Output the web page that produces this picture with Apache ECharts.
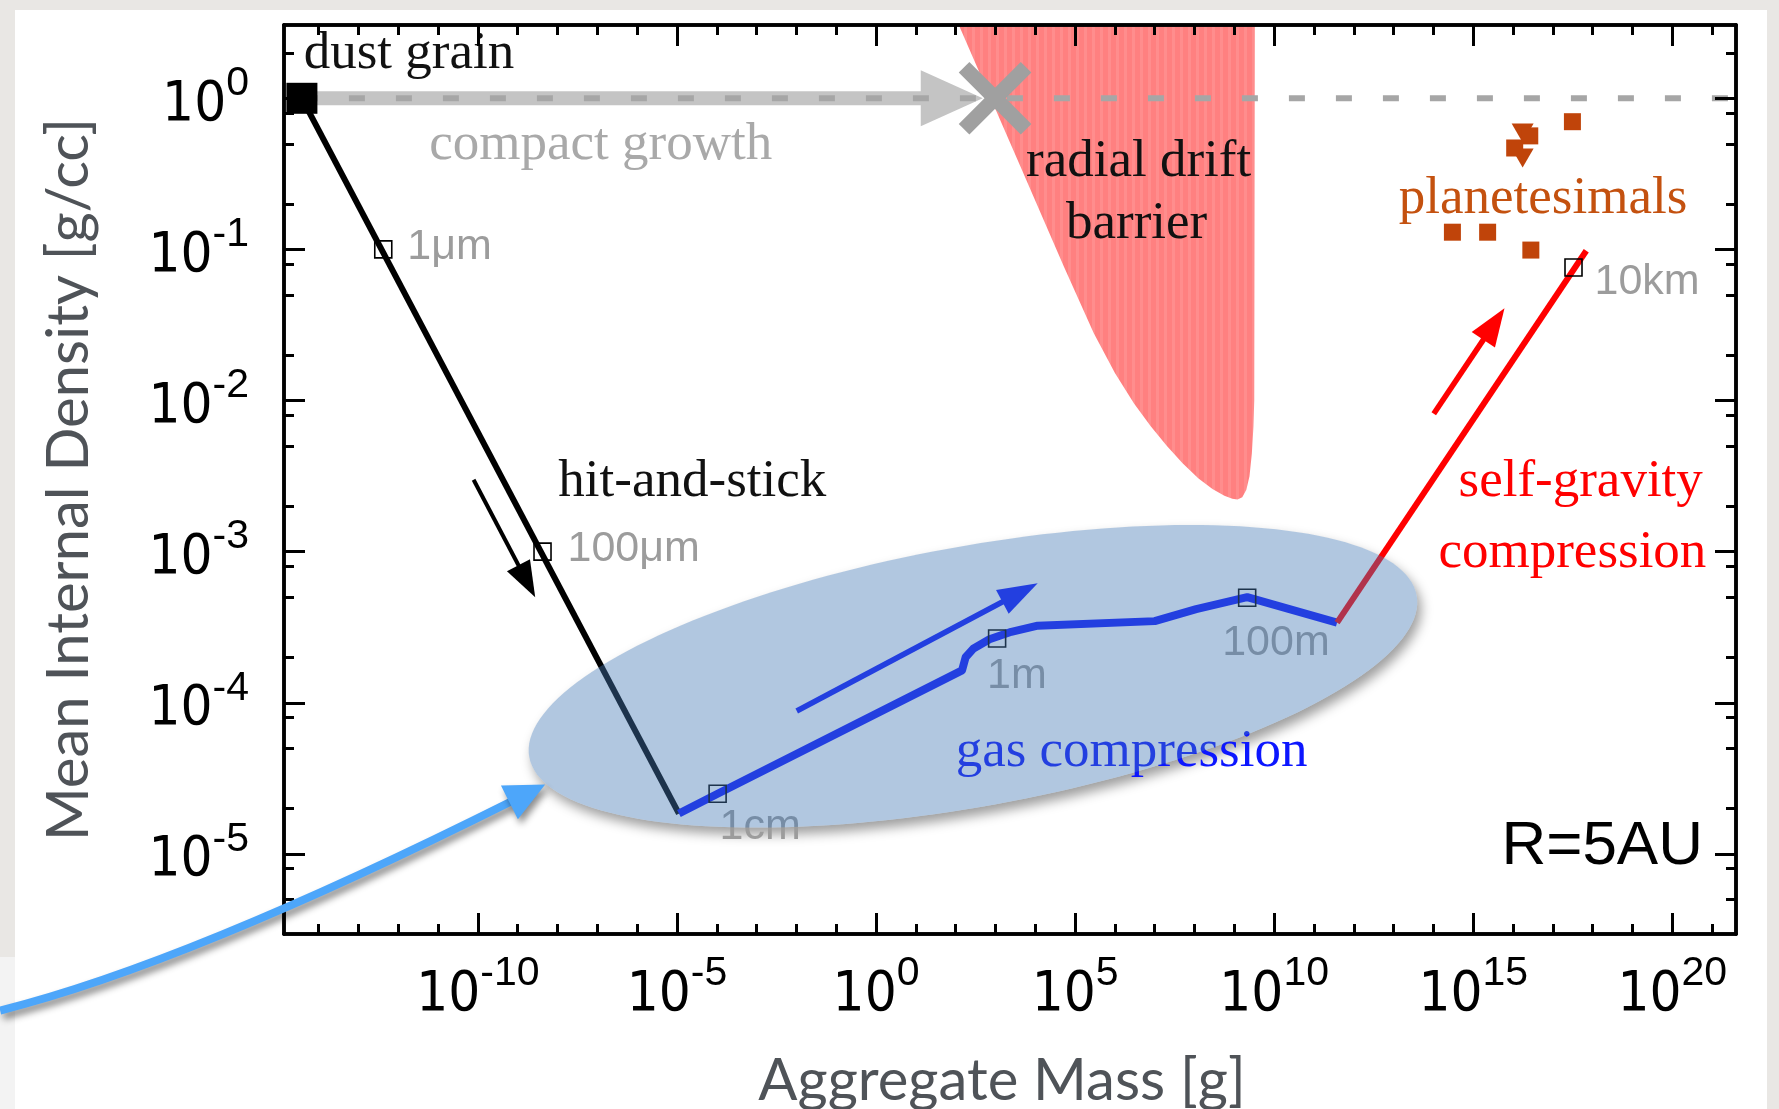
<!DOCTYPE html>
<html>
<head>
<meta charset="utf-8">
<script src="https://cdn.jsdelivr.net/npm/echarts@6/dist/echarts.min.js"></script>
<style>
  html, body { margin: 0; padding: 0; background: #e9e7e4; }
  #chart { width: 1779px; height: 1109px; }
</style>
</head>
<body>
<div id="chart"></div>
<script>
// ---------- axis extents ----------
const MASS_MIN = Math.pow(10, -14.87), MASS_MAX = Math.pow(10, 21.6);
const DENS_MIN = Math.pow(10, -5.53),  DENS_MAX = Math.pow(10, 0.485);

// ---------- tick values ----------
const massTickLabels = [1e-10, 1e-5, 1, 1e5, 1e10, 1e15, 1e20];
const massMinorTicks = [];
for (let d = -14; d <= 21; d++) massMinorTicks.push(Math.pow(10, d));
const densTickLabels = [1e-5, 1e-4, 1e-3, 1e-2, 1e-1, 1];
const densMinorTicks = [];
for (let d = -6; d <= 0; d++) {
  [2, 0.8, 0.5].forEach(f => {
    const v = f * Math.pow(10, d);
    if (v > DENS_MIN && v < DENS_MAX) densMinorTicks.push(v);
  });
}

// ---------- evolution tracks (mass [g], internal density [g/cc]) ----------
const hitStickMass = [3.8e-15, 1.12e-5];
const hitStickDens = [1, 1.85e-5];

const gasMass = [1.12e-5, 1.05e-4, 145, 178, 282, 708, 2.5e3, 1.15e4, 1.0e7, 1.1e8, 2.1e9, 3.8e11];
const gasDens = [1.85e-5, 2.5e-5, 1.64e-4, 2.0e-4, 2.29e-4, 2.63e-4, 2.95e-4, 3.24e-4, 3.47e-4, 4.17e-4, 5.0e-4, 3.39e-4];

const selfGravMass = [3.8e11, 6.9e17];
const selfGravDens = [3.39e-4, 0.098];

// compact growth along rho = 1 and where it stops
const compactMass = [3.8e-15, 480];
const compactDens = [1, 1];
const compactStopMass = [977];
const compactStopDens = [1];
const compactRefMass = [3.8e-15, MASS_MAX];
const compactRefDens = [1, 1];

// size markers along the track
const sizeNames = ['1μm', '100μm', '1cm', '1m', '100m', '10km'];
const sizeMass  = [4.2e-13, 4.2e-9, 1.05e-4, 1.1e3, 2.1e9, 3.3e17];
const sizeDens  = [0.1, 1e-3, 2.5e-5, 2.66e-4, 4.95e-4, 0.076];

// radial drift barrier boundary
const barrierMass = [120, 759, 4266, 5.25e4, 2.95e5, 1.0e6, 3.02e6, 7.94e6, 2.0e7, 5.01e7, 1.26e8, 2.82e8,
                     5.62e8, 8.91e8, 1.2e9, 1.58e9, 2.0e9, 2.4e9, 2.75e9, 3.02e9, 3.16e9, 3.27e9];
const barrierDens = [3.05, 1, 0.353, 0.0769, 0.0279, 0.0152, 9.55e-3, 6.75e-3, 5.02e-3, 3.85e-3, 3.05e-3, 2.6e-3,
                     2.34e-3, 2.24e-3, 2.21e-3, 2.29e-3, 2.57e-3, 3.16e-3, 4.47e-3, 6.76e-3, 0.01, 3.05];

// observed planetesimals
const planetMass = [3.1e17, 2.63e16, 1.1e16, 3.0e14, 2.3e15, 2.8e16];
const planetDens = [0.70, 0.564, 0.469, 0.13, 0.13, 0.099];
const planetLimitMass = [1.74e16, 1.74e16];
const planetLimitDens = [0.589, 0.403];

// direction arrows: start and end (mass, density)
const arrowStart = [[7.8e-11, 2.99e-3], [0.0102, 8.83e-5], [1.02e14, 8.18e-3]];
const arrowEnd   = [[2.75e-9, 5.0e-4], [1.15e4, 6.19e-4], [6.1e15, 0.0408]];

// highlighted gas-compression region: major-axis tips and one minor-axis tip
const regionLeft  = [1.95e-9, 4.37e-5];
const regionRight = [3.8e13, 5.13e-4];
const regionSide  = [69, 1.05e-3];

// pointer curve: start, control, tip
const pointerStart = [1e-22, 9.2e-7];
const pointerCtrl  = [4.8e-18, 1.87e-6];
const pointerTip   = [4.9e-9, 2.88e-5];

// ---------- styles ----------
const SERIF = '"Liberation Serif", "Times New Roman", serif';
const SANS = '"Liberation Sans", Arial, sans-serif';
const NARROW = '"Liberation Sans Narrow", "Arial Narrow", "DejaVu Sans Condensed", sans-serif';
const TITLE = 'Lato, "Open Sans", sans-serif';
const BLUE = 'rgb(12,22,255)';
const RED = '#ff0000';

const arrowStyles = [
  { color: '#000', width: 4, head: 36, headW: 26 },
  { color: BLUE, width: 5.5, head: 40, headW: 27 },
  { color: RED, width: 5.5, head: 38, headW: 28 }
];
const sizeLabelOffsets = [[24, -2], [25, -3], [2, 33], [-10, 38], [-25, 45], [21, 15]];

// annotation texts anchored in data space
const notes = [
  { text: 'dust grain', at: [4.2e-15, 1.96], align: 'left', color: '#111', family: SERIF, size: 53 },
  { text: 'compact growth', at: [6.0e-12, 0.491], align: 'left', color: '#a9a9a9', family: SERIF, size: 53 },
  { text: 'radial drift', at: [3.94e6, 0.379], align: 'center', color: '#111', family: SERIF, size: 53 },
  { text: 'barrier', at: [3.5e6, 0.148], align: 'center', color: '#111', family: SERIF, size: 53 },
  { text: 'hit-and-stick', at: [1.05e-8, 2.9e-3], align: 'left', color: '#111', family: SERIF, size: 53 },
  { text: 'planetesimals', at: [1.35e13, 0.216], align: 'left', color: '#c4510f', family: SERIF, size: 53 },
  { text: 'self-gravity', at: [5.0e17, 2.9e-3], align: 'center', color: RED, family: SERIF, size: 53 },
  { text: 'compression', at: [3.1e17, 9.85e-4], align: 'center', color: RED, family: SERIF, size: 53 },
  { text: 'gas compression', at: [100, 4.75e-5], align: 'left', color: BLUE, family: SERIF, size: 53 },
  { text: 'R=5AU', at: [5.9e20, 1.12e-5], align: 'right', color: '#000', family: SANS, size: 62 }
];

// ---------- helpers ----------
const zip = (xs, ys) => xs.map((x, i) => [x, ys[i]]);

function powerLabel(v) {
  const e = Math.round(Math.log10(v));
  return '{b|10}{e|' + e + '}';
}
const powerRich = {
  b: { fontFamily: NARROW, fontSize: 56, lineHeight: 56, verticalAlign: 'bottom', color: '#000' },
  e: { fontFamily: SANS, fontSize: 41, lineHeight: 70, verticalAlign: 'top', color: '#000' }
};

function massAxis(position, ticks, len, withLabels) {
  const ax = {
    type: 'log', logBase: 10, min: MASS_MIN, max: MASS_MAX, position: position, z: 10,
    axisLine: { show: true, onZero: false, lineStyle: { color: '#000', width: 3.5 } },
    axisTick: { show: true, inside: true, length: len, customValues: ticks, lineStyle: { color: '#000', width: 3 } },
    axisLabel: { show: false },
    splitLine: { show: false }, minorTick: { show: false }, minorSplitLine: { show: false },
    silent: true
  };
  if (withLabels) {
    ax.axisLabel = { show: true, customValues: massTickLabels, margin: 19, formatter: powerLabel, rich: powerRich };
    ax.name = 'Aggregate Mass [g]';
    ax.nameLocation = 'middle';
    ax.nameGap = 118;
    ax.nameMoveOverlap = false;
    ax.nameTextStyle = { fontFamily: TITLE, fontSize: 58, color: '#4f5358', padding: [0, 16, 0, 0] };
  }
  return ax;
}

function densAxis(position, ticks, len, withLabels) {
  const ax = {
    type: 'log', logBase: 10, min: DENS_MIN, max: DENS_MAX, position: position, z: 10,
    axisLine: { show: true, onZero: false, lineStyle: { color: '#000', width: 3.5 } },
    axisTick: { show: true, inside: true, length: len, customValues: ticks, lineStyle: { color: '#000', width: 3 } },
    axisLabel: { show: false },
    splitLine: { show: false }, minorTick: { show: false }, minorSplitLine: { show: false },
    silent: true
  };
  if (withLabels) {
    ax.axisLabel = { show: true, customValues: densTickLabels, margin: 35, formatter: powerLabel, rich: powerRich };
    ax.name = 'Mean Internal Density [g/cc]';
    ax.nameLocation = 'middle';
    ax.nameGap = 186;
    ax.nameMoveOverlap = false;
    ax.nameTextStyle = { fontFamily: TITLE, fontSize: 58, color: '#4f5358' };
  }
  return ax;
}

function arrowShape(p1, p2, st) {
  const dx = p2[0] - p1[0], dy = p2[1] - p1[1];
  const L = Math.hypot(dx, dy) || 1;
  const ux = dx / L, uy = dy / L, nx = -uy, ny = ux;
  const bx = p2[0] - ux * st.head, by = p2[1] - uy * st.head;
  const hw = st.headW / 2;
  return [
    { type: 'line', shape: { x1: p1[0], y1: p1[1], x2: bx + ux * 2, y2: by + uy * 2 },
      style: { stroke: st.color, lineWidth: st.width, fill: null } },
    { type: 'polygon', shape: { points: [[p2[0], p2[1]], [bx + nx * hw, by + ny * hw], [bx - nx * hw, by - ny * hw]] },
      style: { fill: st.color } }
  ];
}

function ellipsePoints(api) {
  const L = api.coord([api.value(0), api.value(1)]);
  const R = api.coord([api.value(2), api.value(3)]);
  const N = api.coord([api.value(4), api.value(5)]);
  const cx = (L[0] + R[0]) / 2, cy = (L[1] + R[1]) / 2;
  const a = Math.hypot(R[0] - L[0], R[1] - L[1]) / 2;
  const ang = Math.atan2(R[1] - L[1], R[0] - L[0]);
  const ca = Math.cos(ang), sa = Math.sin(ang);
  const b = Math.abs((N[0] - cx) * sa - (N[1] - cy) * ca);
  const pts = [];
  for (let k = 0; k < 180; k++) {
    const t = 2 * Math.PI * k / 180;
    const u = a * Math.cos(t), v = b * Math.sin(t);
    pts.push([cx + u * ca - v * sa, cy + u * sa + v * ca]);
  }
  return pts;
}

function stripePattern() {
  const c = document.createElement('canvas');
  c.width = 8; c.height = 4;
  const g = c.getContext('2d');
  g.fillStyle = '#ff8080'; g.fillRect(0, 0, 8, 4);
  g.fillStyle = '#ff8d8d'; g.fillRect(4, 0, 3, 4);
  return c;
}

const regionData = [[regionLeft[0], regionLeft[1], regionRight[0], regionRight[1], regionSide[0], regionSide[1]]];

// ---------- chart ----------
const chart = echarts.init(document.getElementById('chart'));
chart.setOption({
  animation: false,
  backgroundColor: 'transparent',
  textStyle: { fontFamily: SANS },
  grid: { left: 284, right: 43, top: 25, bottom: 175, containLabel: false, outerBoundsMode: 'none' },
  graphic: [
    { type: 'rect', z: -10, silent: true, shape: { x: 15, y: 10, width: 1752, height: 1099 }, style: { fill: '#ffffff' } },
    { type: 'rect', z: -10, silent: true, shape: { x: 0, y: 957, width: 15, height: 152 }, style: { fill: '#f3f3f3' } }
  ],
  xAxis: [
    massAxis('bottom', massTickLabels, 21, true),
    massAxis('bottom', massMinorTicks, 10, false),
    massAxis('top', massTickLabels, 21, false),
    massAxis('top', massMinorTicks, 10, false)
  ],
  yAxis: [
    densAxis('left', densTickLabels, 21, true),
    densAxis('left', densMinorTicks, 10, false),
    densAxis('right', densTickLabels, 21, false),
    densAxis('right', densMinorTicks, 10, false)
  ],
  series: [
    // radial drift barrier, filled up to the top of the frame
    { name: 'radial drift barrier', type: 'line', z: 1, silent: true, symbol: 'none',
      data: zip(barrierMass, barrierDens),
      lineStyle: { width: 0 },
      areaStyle: { origin: 'end', opacity: 1, color: { image: stripePattern(), repeat: 'repeat' } } },
    // soft shadow under the gas-compression region
    { name: 'region shadow', type: 'custom', z: 1, silent: true, clip: false,
      encode: { x: [0, 2, 4], y: [1, 3, 5] }, data: regionData,
      renderItem: (params, api) => ({ type: 'polygon', shape: { points: ellipsePoints(api) },
        style: { fill: '#ffffff', shadowBlur: 12, shadowColor: 'rgba(0,0,0,0.38)', shadowOffsetX: 4, shadowOffsetY: 7 } }) },
    // compact growth arrow
    { name: 'compact growth', type: 'custom', z: 2, silent: true, clip: false,
      encode: { x: [0, 2], y: [1, 3] },
      data: [[compactMass[0], compactDens[0], compactMass[1], compactDens[1]]],
      renderItem: (params, api) => ({ type: 'group', children: arrowShape(
        api.coord([api.value(0), api.value(1)]), api.coord([api.value(2), api.value(3)]),
        { color: '#c4c4c4', width: 14, head: 62, headW: 56 }) }) },
    // rho = 1 reference
    { name: 'compact', type: 'line', z: 3, silent: true, symbol: 'none',
      data: zip(compactRefMass, compactRefDens),
      lineStyle: { color: '#a6a6a6', width: 6, type: [16, 31] } },
    // growth stopped by radial drift
    { name: 'stop', type: 'custom', z: 4, silent: true, clip: false,
      encode: { x: 0, y: 1 }, data: zip(compactStopMass, compactStopDens),
      renderItem: (params, api) => {
        const p = api.coord([api.value(0), api.value(1)]);
        const s = 31, st = { stroke: '#a0a0a0', lineWidth: 15 };
        return { type: 'group', children: [
          { type: 'line', shape: { x1: p[0] - s, y1: p[1] - s, x2: p[0] + s, y2: p[1] + s }, style: st },
          { type: 'line', shape: { x1: p[0] - s, y1: p[1] + s, x2: p[0] + s, y2: p[1] - s }, style: st }
        ] };
      } },
    // evolution tracks
    { name: 'hit-and-stick', type: 'line', z: 5, silent: true, symbol: 'none',
      data: zip(hitStickMass, hitStickDens), lineStyle: { color: '#000', width: 6 } },
    { name: 'gas compression', type: 'line', z: 5, silent: true, symbol: 'none',
      data: zip(gasMass, gasDens), lineStyle: { color: BLUE, width: 8, join: 'round' } },
    { name: 'self-gravity compression', type: 'line', z: 5, silent: true, symbol: 'none',
      data: zip(selfGravMass, selfGravDens), lineStyle: { color: RED, width: 6 } },
    // size markers
    { name: 'sizes', type: 'scatter', z: 5, silent: true, symbol: 'rect', symbolSize: 17,
      data: sizeNames.map((nm, i) => ({ name: nm, value: [sizeMass[i], sizeDens[i]], label: { offset: sizeLabelOffsets[i] } })),
      itemStyle: { color: 'rgba(0,0,0,0)', borderColor: '#000', borderWidth: 1.6, opacity: 1 },
      label: { show: true, position: 'inside', align: 'left', verticalAlign: 'middle', formatter: '{b}',
        fontFamily: SANS, fontSize: 43, color: '#9c9c9c' } },
    // direction arrows
    { name: 'directions', type: 'custom', z: 5, silent: true, clip: false,
      encode: { x: [0, 2], y: [1, 3] },
      data: arrowStart.map((s, i) => [s[0], s[1], arrowEnd[i][0], arrowEnd[i][1]]),
      renderItem: (params, api) => ({ type: 'group', children: arrowShape(
        api.coord([api.value(0), api.value(1)]), api.coord([api.value(2), api.value(3)]),
        arrowStyles[params.dataIndex]) }) },
    // annotation texts
    { name: 'notes', type: 'custom', z: 5, silent: true, clip: false,
      encode: { x: 0, y: 1 }, data: notes.map(n => n.at),
      renderItem: (params, api) => {
        const n = notes[params.dataIndex];
        const p = api.coord([api.value(0), api.value(1)]);
        return { type: 'text', x: p[0], y: p[1],
          style: { text: n.text, fontFamily: n.family, fontSize: n.size, fill: n.color, align: n.align, verticalAlign: 'middle' } };
      } },
    // gas-compression region tint
    { name: 'region', type: 'custom', z: 6, silent: true, clip: false,
      encode: { x: [0, 2, 4], y: [1, 3, 5] }, data: regionData,
      renderItem: (params, api) => ({ type: 'polygon', shape: { points: ellipsePoints(api) },
        style: { fill: 'rgba(68,122,180,0.42)' } }) },
    // planetesimals
    { name: 'planetesimal limits', type: 'scatter', z: 7, silent: true, symbol: 'triangle', symbolRotate: 180,
      symbolSize: [22, 19], data: zip(planetLimitMass, planetLimitDens), itemStyle: { color: '#c0440a', opacity: 1 } },
    { name: 'planetesimals', type: 'scatter', z: 7, silent: true, symbol: 'rect', symbolSize: 17,
      data: zip(planetMass, planetDens), itemStyle: { color: '#c0440a', opacity: 1 } },
    // dust grain
    { name: 'dust grain', type: 'scatter', z: 7, silent: true, symbol: 'rect', symbolSize: 31,
      data: [[hitStickMass[0], hitStickDens[0]]], itemStyle: { color: '#000', opacity: 1 } },
    // pointer to the highlighted region
    { name: 'pointer', type: 'custom', z: 12, silent: true, clip: false,
      encode: { x: [0, 2, 4], y: [1, 3, 5] },
      data: [[pointerStart[0], pointerStart[1], pointerCtrl[0], pointerCtrl[1], pointerTip[0], pointerTip[1]]],
      renderItem: (params, api) => {
        const a = api.coord([api.value(0), api.value(1)]);
        const c = api.coord([api.value(2), api.value(3)]);
        const t = api.coord([api.value(4), api.value(5)]);
        const dx = t[0] - c[0], dy = t[1] - c[1], L = Math.hypot(dx, dy);
        const ux = dx / L, uy = dy / L, nx = -uy, ny = ux;
        const head = 40, hw = 19;
        const bx = t[0] - ux * head, by = t[1] - uy * head;
        const shadow = { shadowBlur: 7, shadowColor: 'rgba(0,0,0,0.45)', shadowOffsetX: 3, shadowOffsetY: 5 };
        return { type: 'group', children: [
          { type: 'bezierCurve', shape: { x1: a[0], y1: a[1], cpx1: c[0], cpy1: c[1], x2: bx + ux * 3, y2: by + uy * 3 },
            style: Object.assign({ stroke: '#4da6fa', lineWidth: 8, fill: null }, shadow) },
          { type: 'polygon', shape: { points: [[t[0], t[1]], [bx + nx * hw, by + ny * hw], [bx - nx * hw, by - ny * hw]] },
            style: Object.assign({ fill: '#4da6fa' }, shadow) }
        ] };
      } }
  ]
});
</script>
</body>
</html>
